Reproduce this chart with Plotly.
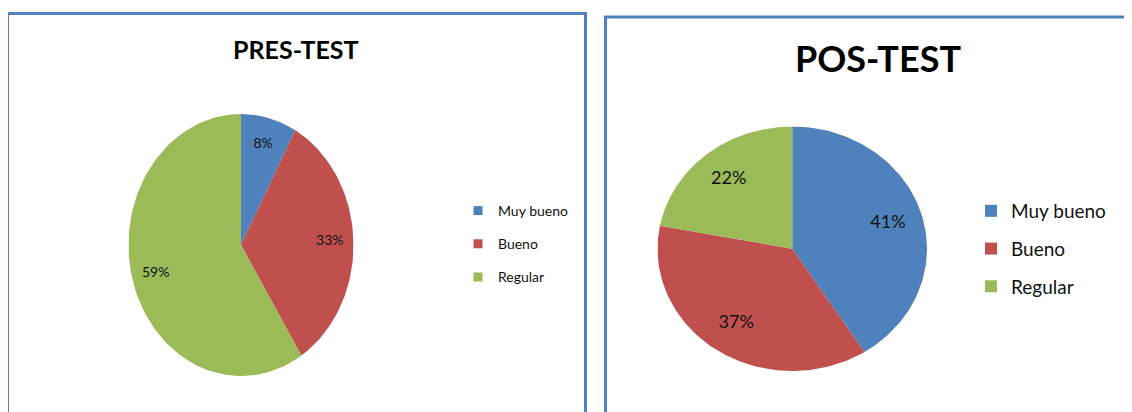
import numpy as np
import plotly.graph_objects as go

categories = ["Muy bueno", "Bueno", "Regular"]
pre_values = [8, 33, 59]
post_values = [41, 37, 22]
colors = ["#4F81BD", "#C0504D", "#9BBB59"]

# the page body keeps its default 8px margin, so the figure is offset by 8px
OFF = 8
W, H = 1132 - OFF, 412 - OFF
FONT = "Lato"


def px(x):
    return (x - OFF) / W


def py(y):
    return 1 - (y - OFF) / H


def pie_traces(values, xa, ya, label_r, font_size):
    # ellipse-shaped pie, clockwise from 12 o'clock, drawn on a [-1,1] axis pair
    traces = []
    total = sum(values)
    start = 0.0
    lx, ly, lt = [], [], []
    for name, v, c in zip(categories, values, colors):
        a0 = start / total * 2 * np.pi
        a1 = (start + v) / total * 2 * np.pi
        t = np.linspace(a0, a1, 120)
        xs = np.concatenate([[0], np.sin(t), [0]])
        ys = np.concatenate([[0], np.cos(t), [0]])
        traces.append(go.Scatter(x=xs, y=ys, mode="lines", fill="toself",
                                 fillcolor=c, line=dict(width=0, color=c),
                                 xaxis=xa, yaxis=ya, showlegend=False,
                                 hoverinfo="skip"))
        mid = (a0 + a1) / 2
        lx.append(label_r * np.sin(mid))
        ly.append(label_r * np.cos(mid))
        lt.append(f"{round(v / total * 100)}%")
        start += v
    traces.append(go.Scatter(x=lx, y=ly, mode="text", text=lt,
                             textfont=dict(family=FONT, size=font_size, color="#111"),
                             xaxis=xa, yaxis=ya, showlegend=False, hoverinfo="skip"))
    return traces


fig = go.Figure()
for tr in pie_traces(pre_values, "x", "y", 0.79, 14):
    fig.add_trace(tr)
for tr in pie_traces(post_values, "x2", "y2", 0.74, 18):
    fig.add_trace(tr)

# legend entries
for name, c in zip(categories, colors):
    fig.add_trace(go.Scatter(x=[None], y=[None], mode="markers", name=name,
                             marker=dict(symbol="square", size=9, color=c),
                             legend="legend", legendgroup="a" + name))
    fig.add_trace(go.Scatter(x=[None], y=[None], mode="markers", name=name,
                             marker=dict(symbol="square", size=12, color=c),
                             legend="legend2", legendgroup="b" + name))

ax = dict(range=[-1, 1], visible=False, fixedrange=True)
fig.update_layout(
    width=W, height=H,
    margin=dict(l=0, r=0, t=0, b=0),
    paper_bgcolor="white", plot_bgcolor="rgba(0,0,0,0)",
    xaxis=dict(domain=[px(128.5), px(353.5)], **ax),
    yaxis=dict(domain=[py(376), py(114)], **ax),
    xaxis2=dict(domain=[px(657.5), px(927)], **ax),
    yaxis2=dict(domain=[py(371), py(126.5)], **ax),
    legend=dict(x=px(458), y=py(195), xanchor="left", yanchor="top",
                font=dict(family=FONT, size=14, color="#111"),
                tracegroupgap=12, bgcolor="rgba(0,0,0,0)"),
    legend2=dict(x=px(971), y=py(192), xanchor="left", yanchor="top",
                 font=dict(family=FONT, size=19, color="#111"),
                 tracegroupgap=10, bgcolor="rgba(0,0,0,0)"),
    showlegend=True,
    shapes=[
        dict(type="rect", xref="paper", yref="paper",
             x0=px(7.5), x1=px(585.5), y0=-0.1, y1=py(13.5),
             line=dict(color="#4F81BD", width=3)),
        dict(type="rect", xref="paper", yref="paper",
             x0=px(605.5), x1=1.1, y0=-0.1, y1=py(17),
             line=dict(color="#4F81BD", width=3)),
    ],
    annotations=[
        dict(text="<b>PRES-TEST</b>", x=px(296), y=py(49), xref="paper", yref="paper",
             xanchor="center", yanchor="middle", showarrow=False,
             font=dict(family=FONT, size=25, color="black")),
        dict(text="<b>POS-TEST</b>", x=px(878), y=py(58), xref="paper", yref="paper",
             xanchor="center", yanchor="middle", showarrow=False,
             font=dict(family=FONT, size=36, color="black")),
    ],
)

fig.write_html("out.html")
